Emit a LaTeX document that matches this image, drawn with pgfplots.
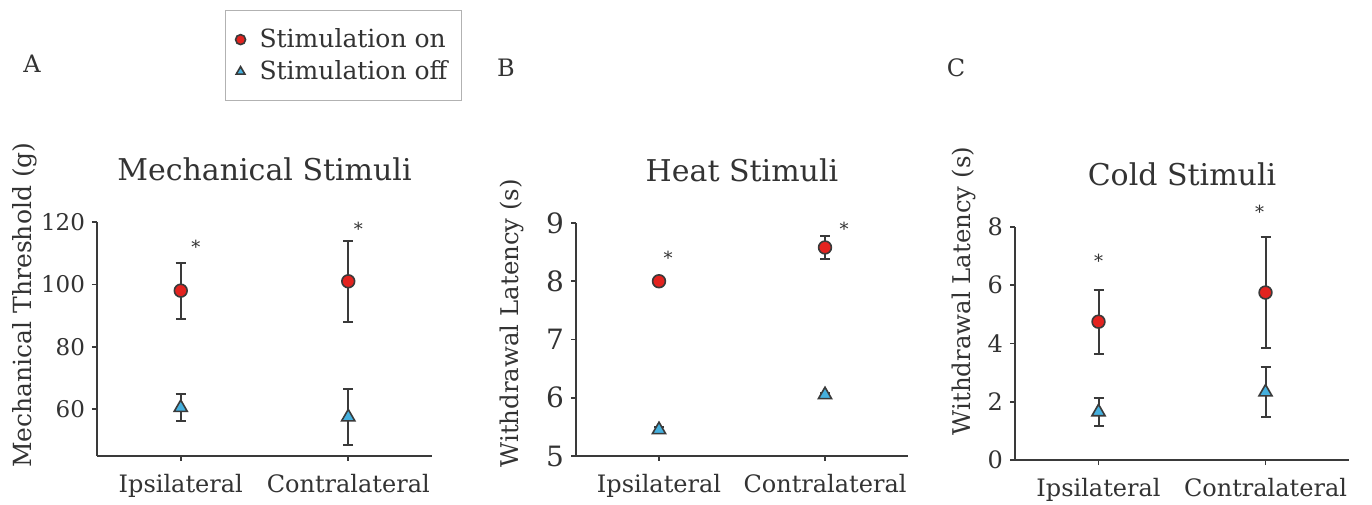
\documentclass[border=0pt]{standalone}
\usepackage{fontspec}
\setmainfont{DejaVu Serif}
\usepackage{pgfplots}
\pgfplotsset{compat=1.18}

\definecolor{axgray}{HTML}{3A3A3A}
\definecolor{onred}{HTML}{E3231F}
\definecolor{offblue}{HTML}{45B0DE}
\definecolor{txt}{HTML}{333333}

\newcommand\fs[1]{\fontsize{#1}{#1}\selectfont}

\tikzset{astk/.style={font=\fs{9}, text=txt, anchor=base, yshift=-5.2pt, inner sep=0pt}}

\pgfplotsset{
  panel/.style={
    scale only axis, width=167pt, height=116.5pt,
    axis lines=left, axis line style={axgray, line width=1.2pt, -},
    xmin=-0.5, xmax=1.5, xtick={0,1},
    xticklabels={Ipsilateral,Contralateral},
    tick align=outside, major tick length=2.5pt,
    tick style={axgray, line width=0.8pt},
    xticklabel style={font=\fs{12}, text=txt, yshift=-3pt},
    /pgf/number format/assume math mode=true,
    clip=false,
    title style={at={(axis description cs:0.5,1.174)}, anchor=center, font=\fs{15}, text=txt},
    ylabel style={anchor=center, font=\fs{12.2}, text=txt},
    error bars/y dir=both, error bars/y explicit,
    error bars/error bar style={axgray, line width=1pt},
    error bars/error mark options={rotate=90, axgray, line width=1pt, mark size=2.5pt},
  },
  on/.style={only marks, mark=*, mark size=3.2pt,
    mark options={fill=onred, draw=axgray, line width=0.8pt}},
  off/.style={only marks, mark=triangle*, mark size=3.8pt,
    mark options={fill=offblue, draw=axgray, line width=0.8pt}},
}

\begin{document}
\begin{tikzpicture}
\path[use as bounding box] (0,0) rectangle (686pt,252pt);

% panel letters
\node[font=\fs{12}, text=txt] at (16pt,220pt) {A};
\node[font=\fs{12}, text=txt] at (253pt,218pt) {B};
\node[font=\fs{12}, text=txt] at (478pt,218pt) {C};

% A: mechanical
\begin{axis}[panel, at={(48.5pt,24pt)}, anchor=south west, width=167.5pt, height=117pt,
  ymin=45, ymax=120, ytick={60,80,100,120},
  yticklabel style={font=\fs{11.5}, text=txt},
  title={Mechanical Stimuli},
  ylabel={Mechanical Threshold (g)},
  ylabel style={at={(axis description cs:-0.215,0.645)}, font=\fs{12.5}},
  legend style={at={(axis description cs:0.382,1.906)}, anchor=north west,
    draw=gray!60, line width=0.6pt, font=\fs{12.5}, text=txt,
    inner xsep=5pt, inner ysep=7pt, row sep=1pt, column sep=5pt},
  legend image post style={mark size=2.5pt},
  legend cell align=left]
\addplot+[on] coordinates {(0,98) +- (0,9) (1,101) +- (0,13)};
\addlegendentry{Stimulation on}
\addplot+[off] coordinates {(0,60.5) +- (0,4.3) (1,57.5) +- (0,9)};
\addlegendentry{Stimulation off}
\node[astk] at (axis cs:0.09,113.4) {*};
\node[astk] at (axis cs:1.06,119) {*};
\end{axis}

% B: heat
\begin{axis}[panel, at={(288pt,24pt)}, anchor=south west, width=166pt, height=116.5pt,
  ymin=5, ymax=9, ytick={5,6,7,8,9},
  yticklabel style={font=\fs{14}, text=txt},
  title={Heat Stimuli},
  ylabel={Withdrawal Latency (s)},
  ylabel style={at={(axis description cs:-0.193,0.57)}}]
\addplot+[on] coordinates {(0,8.0) +- (0,0.05) (1,8.58) +- (0,0.2)};
\addplot+[off] coordinates {(0,5.45) +- (0,0.04) (1,6.05) +- (0,0.03)};
\node[astk] at (axis cs:0.055,8.47) {*};
\node[astk] at (axis cs:1.115,8.97) {*};
\end{axis}

% C: cold
\begin{axis}[panel, at={(507.5pt,22pt)}, anchor=south west, width=167pt, height=116.5pt,
  ymin=0, ymax=8, ytick={0,2,4,6,8},
  yticklabel style={font=\fs{12}, text=txt},
  title={Cold Stimuli},
  ylabel={Withdrawal Latency (s)},
  ylabel style={at={(axis description cs:-0.153,0.725)}}]
\addplot+[on] coordinates {(0,4.75) +- (0,1.1) (1,5.75) +- (0,1.9)};
\addplot+[off] coordinates {(0,1.65) +- (0,0.48) (1,2.33) +- (0,0.85)};
\node[astk] at (axis cs:0,6.97) {*};
\node[astk] at (axis cs:0.965,8.66) {*};
\end{axis}
\end{tikzpicture}
\end{document}
